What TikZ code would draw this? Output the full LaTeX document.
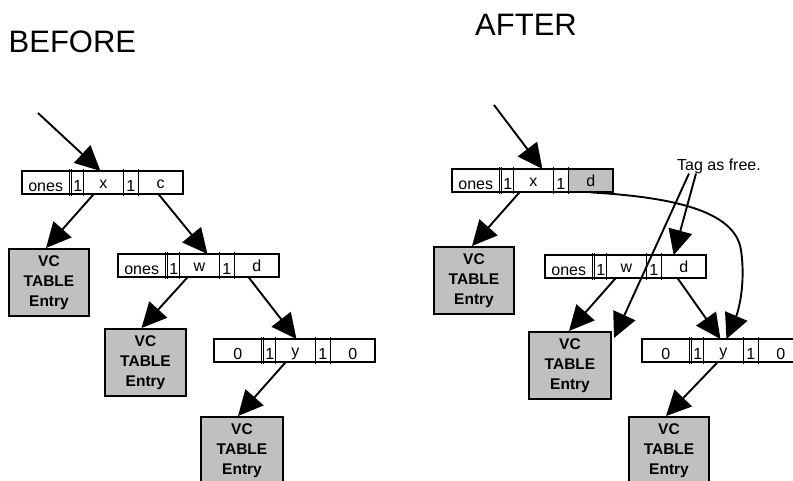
\documentclass[tikz,border=0pt]{standalone}
\usepackage{fontspec}
\setmainfont{Liberation Sans}
\usetikzlibrary{arrows.meta}
\definecolor{boxgray}{RGB}{192,192,192}
\tikzset{
 arr/.style={line width=1.9pt, -{Triangle[length=25pt,width=24pt]}},
 cellA/.style={inner sep=0pt, anchor=north west, text height=20pt, text depth=3pt, font=\fontsize{16}{16}\selectfont},
 cellB/.style={inner sep=0pt, anchor=north west, text height=17pt, text depth=6pt, font=\fontsize{16}{16}\selectfont},
 frame/.style={line width=2pt},
 divider/.style={line width=1.1pt},
 vcbox/.style={draw, line width=2pt, fill=boxgray, inner sep=0pt, minimum width=80pt, minimum height=67pt, anchor=north west, align=center, font=\bfseries\fontsize{15.5}{20}\selectfont},
 title/.style={inner sep=0pt, anchor=base west, font=\fontsize{31}{31}\selectfont},
 tagtext/.style={inner sep=0pt, anchor=base west, font=\fontsize{16}{16}\selectfont},
}
\newcommand\myrec[8]{%
  \node[cellA, minimum width=47pt] (#1a) at (#2,#3) {#4};
  \node[cellA, minimum width=12pt] (#1b) at (#2+49.5,#3) {1};
  \node[cellB, minimum width=39.5pt] (#1c) at (#2+61.5,#3) {#5};
  \node[cellA, minimum width=15pt] (#1d) at (#2+101,#3) {1};
  \node[#7, minimum width=45pt, fill=#8] (#1e) at (#2+116,#3) {#6};
  \draw[frame] (#1a.north west) rectangle (#1e.south east);
  \draw[divider] ([yshift=2pt]#1a.north east) -- ([yshift=-2pt]#1a.south east);
  \draw[divider] ([yshift=2pt]#1b.north west) -- ([yshift=-2pt]#1b.south west);
  \draw[divider] ([yshift=2pt]#1b.north east) -- ([yshift=-2pt]#1b.south east);
  \draw[divider] ([yshift=2pt]#1c.north east) -- ([yshift=-2pt]#1c.south east);
  \draw[divider] ([yshift=2pt]#1d.north east) -- ([yshift=-2pt]#1d.south east);
}
\begin{document}
\begin{tikzpicture}[x=1pt,y=-1pt]
\useasboundingbox (0,0) rectangle (793,480);
\clip (0,0) rectangle (793,480);

% titles
\node[title] (before) at (8.5,52) {BEFORE};
\node[title] (after) at (475,35) {AFTER};

% BEFORE records
\myrec{La}{22}{171}{ones}{x}{c}{cellB}{white}
\myrec{Lb}{118}{254}{ones}{w}{d}{cellB}{white}
\myrec{Lc}{214}{339}{0}{y}{0}{cellA}{white}

\node[vcbox] (LV1) at (8,248) {VC\\TABLE\\Entry};
\node[vcbox, minimum width=81pt] (LV2) at (104,328) {VC\\TABLE\\Entry};
\node[vcbox, minimum width=82pt] (LV3) at (200,416) {VC\\TABLE\\Entry};

\coordinate (s1) at (38,113);
\draw[arr] (s1) -- ([xshift=-3pt]Lac.north);
\draw[arr] ([xshift=-10pt]Lac.south) -- ([xshift=-3pt]LV1.north);
\draw[arr] ([xshift=-2pt]Lae.south) -- ([xshift=8pt]Lbc.north);
\draw[arr] ([xshift=-12pt]Lbc.south) -- ([xshift=-4pt]LV2.north);
\draw[arr] ([xshift=-8pt]Lbe.south) -- ([xshift=1pt]Lcc.north);
\draw[arr] ([xshift=-10pt]Lcc.south) -- ([xshift=-4pt]LV3.north);

% AFTER records
\myrec{Ra}{452}{169}{ones}{x}{d}{cellB}{boxgray}
\myrec{Rb}{545}{255}{ones}{w}{d}{cellB}{white}
\myrec{Rc}{642}{339}{0}{y}{0}{cellA}{white}

\node[vcbox] (RV1) at (433,246) {VC\\TABLE\\Entry};
\node[vcbox, minimum width=82pt] (RV2) at (528,331) {VC\\TABLE\\Entry};
\node[vcbox] (RV3) at (628,416) {VC\\TABLE\\Entry};

\node[tagtext] (tag) at (677,170) {Tag as free.};

\coordinate (s2) at (494,105);
\draw[arr] (s2) -- ([xshift=9pt]Rac.north);
\draw[arr] ([xshift=-14pt]Rac.south) -- ([xshift=-2pt]RV1.north);
\draw[arr] ([xshift=-11pt]Rbc.south) -- ([xshift=-1pt]RV2.north);
\draw[arr] ([xshift=-6pt]Rbe.south) -- ([xshift=-3pt]Rcc.north);
\draw[arr] ([xshift=-6pt]Rcc.south) -- ([xshift=-3pt]RV3.north);
\draw[arr] (Rae.south) .. controls (670,197) and (735,210) .. (741,250)
  .. controls (746,285) and (738,312) .. ([xshift=3pt]Rcc.north);
\draw[arr] ([xshift=-30pt]tag.south) -- ([xshift=2pt,yshift=-7pt]RV2.north east);
\draw[arr] ([xshift=-23pt]tag.south) -- ([xshift=-10pt]Rbe.north);
\end{tikzpicture}
\end{document}
